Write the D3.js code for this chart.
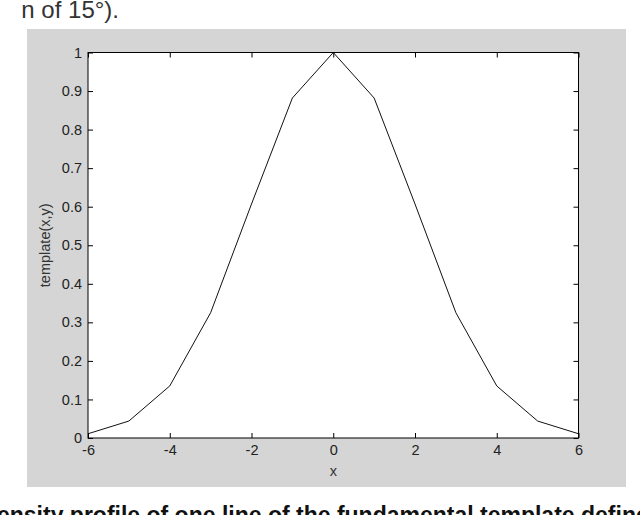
<!DOCTYPE html>
<html>
<head>
<meta charset="utf-8">
<script src="https://cdn.jsdelivr.net/npm/d3@7"></script>
<style>
  html, body { margin: 0; padding: 0; background: #fff; overflow: hidden; }
  svg { display: block; }
</style>
</head>
<body>
<svg id="chart" width="640" height="515"></svg>
<script>
// Data
const xValues = [-6, -5, -4, -3, -2, -1, 0, 1, 2, 3, 4, 5, 6];
const templateValues = [0.011, 0.044, 0.135, 0.325, 0.607, 0.882, 1.0, 0.882, 0.607, 0.325, 0.135, 0.044, 0.011];
const xTicks = [-6, -4, -2, 0, 2, 4, 6];
const yTicks = [0, 0.1, 0.2, 0.3, 0.4, 0.5, 0.6, 0.7, 0.8, 0.9, 1];
const xLabel = "x";
const yLabel = "template(x,y)";
const topText = "n of 15°).";
const captionText = "Intensity profile of one line of the fundamental template defined";

const svg = d3.select("#chart");
const font = "'Liberation Sans', Arial, Helvetica, sans-serif";
const tickFont = 14.5;

// Surrounding page text (partial, as in the reference)
svg.append("text")
  .attr("x", 119).attr("y", 18)
  .attr("text-anchor", "end")
  .attr("font-family", font).attr("font-size", 24)
  .attr("fill", "#333")
  .text(topText);

// Figure grey background
svg.append("rect")
  .attr("x", 27).attr("y", 29)
  .attr("width", 599).attr("height", 458)
  .attr("fill", "#d5d5d5");

const pLeft = 88, pRight = 578.5, pTop = 52.5, pBottom = 438;
const x = d3.scaleLinear().domain([-6, 6]).range([pLeft, pRight]);
const y = d3.scaleLinear().domain([0, 1]).range([pBottom, pTop]);

// Plot area
svg.append("rect")
  .attr("x", pLeft).attr("y", pTop)
  .attr("width", pRight - pLeft).attr("height", pBottom - pTop)
  .attr("fill", "#fff");

// Line
const line = d3.line().x((d, i) => x(xValues[i])).y(d => y(d));
svg.append("path")
  .datum(templateValues)
  .attr("d", line)
  .attr("fill", "none")
  .attr("stroke", "#111")
  .attr("stroke-width", 1);

// Axes: MATLAB-like box with inward ticks on all sides
const tickLen = 5;
function styleAxis(g) {
  g.select(".domain").remove();
  g.selectAll(".tick line").attr("stroke", "#000");
  g.selectAll(".tick text")
    .attr("font-family", font).attr("font-size", tickFont).attr("fill", "#222");
}
const fmt = d => String(d);
svg.append("g").attr("transform", `translate(0,${pBottom})`)
  .call(d3.axisBottom(x).tickValues(xTicks).tickSizeInner(-tickLen).tickSizeOuter(0).tickPadding(7).tickFormat(fmt))
  .call(styleAxis);
svg.append("g").attr("transform", `translate(0,${pTop})`)
  .call(d3.axisTop(x).tickValues(xTicks).tickSizeInner(-tickLen).tickSizeOuter(0).tickFormat(""))
  .call(styleAxis);
svg.append("g").attr("transform", `translate(${pLeft},0)`)
  .call(d3.axisLeft(y).tickValues(yTicks).tickSizeInner(-tickLen).tickSizeOuter(0).tickPadding(6).tickFormat(fmt))
  .call(styleAxis);
svg.append("g").attr("transform", `translate(${pRight},0)`)
  .call(d3.axisRight(y).tickValues(yTicks).tickSizeInner(-tickLen).tickSizeOuter(0).tickFormat(""))
  .call(styleAxis);

// Box
svg.append("rect")
  .attr("x", pLeft).attr("y", pTop)
  .attr("width", pRight - pLeft).attr("height", pBottom - pTop)
  .attr("fill", "none").attr("stroke", "#000").attr("stroke-width", 1);

// Axis labels
svg.append("text")
  .attr("x", (pLeft + pRight) / 2).attr("y", 476)
  .attr("text-anchor", "middle")
  .attr("font-family", font).attr("font-size", tickFont).attr("fill", "#333")
  .text(xLabel);
svg.append("text")
  .attr("transform", `translate(50,${(pTop + pBottom) / 2}) rotate(-90)`)
  .attr("text-anchor", "middle")
  .attr("font-family", font).attr("font-size", tickFont).attr("fill", "#333")
  .text(yLabel);

// Caption (bold, cut off at the bottom as in the reference)
const capSize = 23;
const cap = svg.append("text")
  .attr("y", 523)
  .attr("font-family", font).attr("font-size", capSize).attr("font-weight", "bold")
  .attr("fill", "#111")
  .text(captionText);
const tmp = svg.append("text")
  .attr("font-family", font).attr("font-size", capSize).attr("font-weight", "bold")
  .text("Int");
const shift = tmp.node().getComputedTextLength();
tmp.remove();
cap.attr("x", -shift - 3);
</script>
</body>
</html>
